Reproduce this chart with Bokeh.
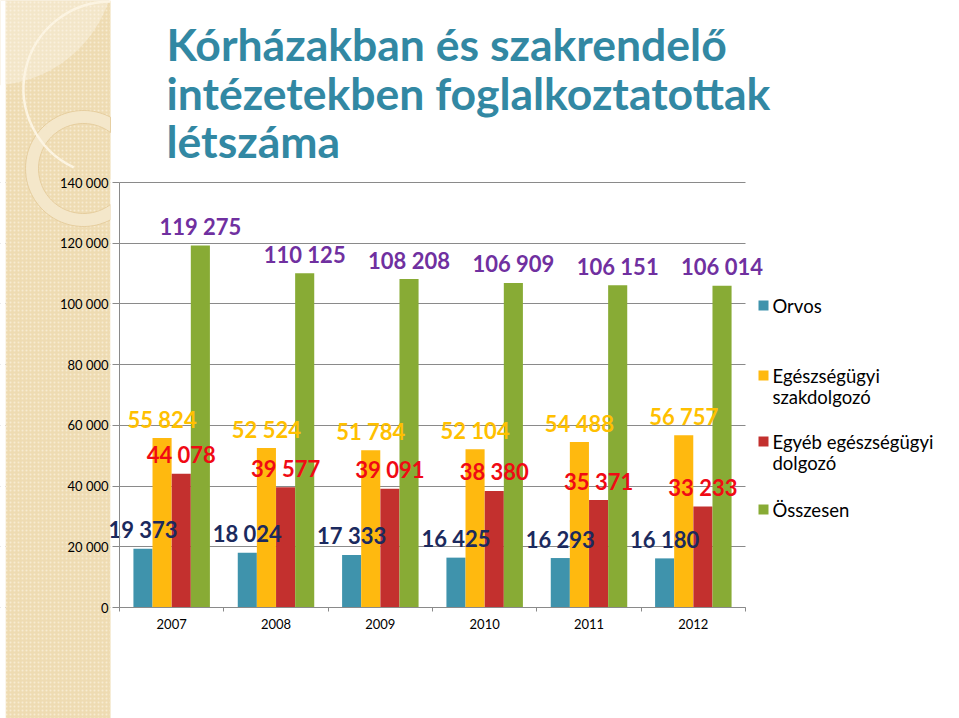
import math
from bokeh.plotting import figure
from bokeh.models import ColumnDataSource, FixedTicker, Range1d
from bokeh.core.properties import value
from bokeh.embed import file_html
from bokeh.resources import INLINE

# ---- data ----
years = ["2007", "2008", "2009", "2010", "2011", "2012"]
orvos = [19373, 18024, 17333, 16425, 16293, 16180]
szakdolgozo = [55824, 52524, 51784, 52104, 54488, 56757]
egyeb = [44078, 39577, 39091, 38380, 35371, 33233]
osszesen = [119275, 110125, 108208, 106909, 106151, 106014]
series_names = ["Orvos", "Egészségügyi szakdolgozó", "Egyéb egészségügyi dolgozó", "Összesen"]
y_ticks = [0, 20000, 40000, 60000, 80000, 100000, 120000, 140000]
title_lines = ["Kórházakban és szakrendelő", "intézetekben foglalkoztatottak", "létszáma"]

# ---- style ----
bar_colors = ["#3F93AC", "#FFB90F", "#C3302E", "#88AB35"]
label_colors = ["#1B2A5E", "#FFC000", "#F00A14", "#7030A0"]
offsets = [-0.275, -0.092, 0.092, 0.275]
bar_w = 0.183
FONT = "Lato"
W, H = 959, 718
# pixel geometry of the plotting area (x: 0..6 categories, y: 0..140000)
PX_L, PX_R, PY_B, PY_T = 119, 745, 607, 182
n = len(years)
YMAX = y_ticks[-1]


def xd(px):
    return (px - PX_L) * n / (PX_R - PX_L)


def yd(py):
    return (PY_B - py) * YMAX / (PY_B - PY_T)


def fmt(v):
    return f"{v:,}".replace(",", " ")


p = figure(width=W, height=H, output_backend="svg", toolbar_location=None,
           x_range=Range1d(xd(0), xd(W)), y_range=Range1d(yd(H), yd(0)),
           min_border=0)
p.outline_line_color = None
p.background_fill_color = "white"
p.border_fill_color = "white"

# axes placed at the data origin
p.yaxis.fixed_location = 0
p.xaxis.fixed_location = 0
p.yaxis.bounds = (0, YMAX)
p.xaxis.bounds = (0, n)

p.yaxis.ticker = FixedTicker(ticks=y_ticks)
p.yaxis.major_label_overrides = {t: fmt(t) for t in y_ticks}
p.yaxis.minor_tick_line_color = None
p.yaxis.major_tick_out = 7
p.yaxis.major_tick_in = 0
p.yaxis.major_label_standoff = 4
p.yaxis.axis_line_color = "#8A8A8A"
p.yaxis.major_tick_line_color = "#8A8A8A"
p.yaxis.major_label_text_font = FONT
p.yaxis.major_label_text_font_size = "13px"
p.yaxis.major_label_text_color = "black"

p.xaxis.ticker = FixedTicker(ticks=[i + 0.5 for i in range(n)],
                             minor_ticks=list(range(n + 1)))
p.xaxis.major_label_overrides = {i + 0.5: y for i, y in enumerate(years)}
p.xaxis.major_tick_line_color = None
p.xaxis.major_tick_out = 0
p.xaxis.major_tick_in = 0
p.xaxis.minor_tick_out = 4
p.xaxis.minor_tick_in = 0
p.xaxis.minor_tick_line_color = "#8A8A8A"
p.xaxis.axis_line_color = "#8A8A8A"
p.xaxis.major_label_standoff = 7
p.xaxis.major_label_text_font = FONT
p.xaxis.major_label_text_font_size = "13px"
p.xaxis.major_label_text_color = "black"

p.xgrid.grid_line_color = None
p.ygrid.ticker = FixedTicker(ticks=y_ticks)
p.ygrid.grid_line_color = "#8A8A8A"
p.ygrid.grid_line_width = 1

# ---- left decorative stripe ----
STRIPE_L, STRIPE_R = 5, 110
p.quad(left=xd(STRIPE_L), right=xd(STRIPE_R), bottom=yd(H), top=yd(0),
       fill_color="#EEDBB2", line_color=None,
       hatch_pattern="dot", hatch_color="#F7EBD2", hatch_scale=4)
# lighter lens at the top
p.circle(x=[xd(-10)], y=[yd(-40)], radius=125, radius_units="screen",
         fill_color="#F3E6C9", line_color=None,
         hatch_pattern="dot", hatch_color="#F9F0DE", hatch_scale=4)


# ring, clipped at the right edge of the stripe (decorative outline)
def ring_outline(cx, cy, r_out, r_in, xmax, steps=80):
    ao = math.acos(min(1.0, (xmax - cx) / r_out))
    ai = math.acos(min(1.0, (xmax - cx) / r_in))
    pts = []
    for s in range(steps + 1):
        a = ao + (2 * math.pi - 2 * ao) * s / steps
        pts.append((cx + r_out * math.cos(a), cy - r_out * math.sin(a)))
    for s in range(steps + 1):
        a = (2 * math.pi - ai) - (2 * math.pi - 2 * ai) * s / steps
        pts.append((cx + r_in * math.cos(a), cy - r_in * math.sin(a)))
    return [xd(a) for a, _ in pts], [yd(b) for _, b in pts]


rx, ry = ring_outline(83, 168, 58, 45, STRIPE_R)
p.patch(rx, ry, fill_color="#F4E7CA", line_color="#E2C896", line_width=0.8)
# thin light arc
p.arc(x=[xd(110)], y=[yd(88)], radius=87, radius_units="screen",
      start_angle=math.radians(90), end_angle=math.radians(245),
      line_color="#FCF4E2", line_width=2.5)
# masks: white margin left of the stripe, gap between stripe and axis, right side
p.quad(left=xd(0), right=xd(STRIPE_L), bottom=yd(H), top=yd(0),
       fill_color="white", line_color=None)
p.quad(left=xd(STRIPE_R), right=0, bottom=yd(PY_B + 3), top=yd(PY_T - 3),
       fill_color="white", line_color=None)
p.quad(left=n, right=xd(W), bottom=yd(PY_B + 3), top=yd(PY_T - 3),
       fill_color="white", line_color=None)

# ---- bars ----
all_series = [orvos, szakdolgozo, egyeb, osszesen]
sources = []
for k, vals in enumerate(all_series):
    xs = [i + 0.5 + offsets[k] for i in range(n)]
    src = ColumnDataSource(dict(x=xs, top=vals, lab=[fmt(v) for v in vals]))
    sources.append(src)
    p.vbar(x="x", top="top", bottom=0, width=bar_w, source=src,
           fill_color=bar_colors[k], line_color=None)

# value labels (drawn after all bars)
for k, src in enumerate(sources):
    p.text(x="x", y="top", text="lab", source=src, text_align="center",
           text_baseline="middle", y_offset=-19, text_color=label_colors[k],
           text_font=value(FONT), text_font_style="bold", text_font_size="22px")

# ---- title ----
title_mid = [43, 91.5, 140]
p.text(x=[xd(166)] * 3, y=[yd(b) for b in title_mid], text=title_lines,
       text_font=value(FONT), text_font_style="bold", text_font_size="44.5px",
       text_color="#3288A3", text_baseline="middle", text_align="left")

# ---- legend (manual) ----
legend_lines = [["Orvos"], ["Egészségügyi", "szakdolgozó"],
                ["Egyéb egészségügyi", "dolgozó"], ["Összesen"]]
legend_y = [305, 375, 441, 509]
p.rect(x=[xd(763)] * 4, y=[yd(v) for v in legend_y], width=10, height=10,
       width_units="screen", height_units="screen",
       fill_color=bar_colors, line_color=None)
lx, ly, lt = [], [], []
for lines, py in zip(legend_lines, legend_y):
    for j, line in enumerate(lines):
        lx.append(xd(772))
        ly.append(yd(py + 21 * j))
        lt.append(line)
p.text(x=lx, y=ly, text=lt, text_font=value(FONT), text_font_size="18.5px",
       text_color="black", text_baseline="middle", text_align="left")

open("out.html", "w").write(file_html(p, INLINE))
